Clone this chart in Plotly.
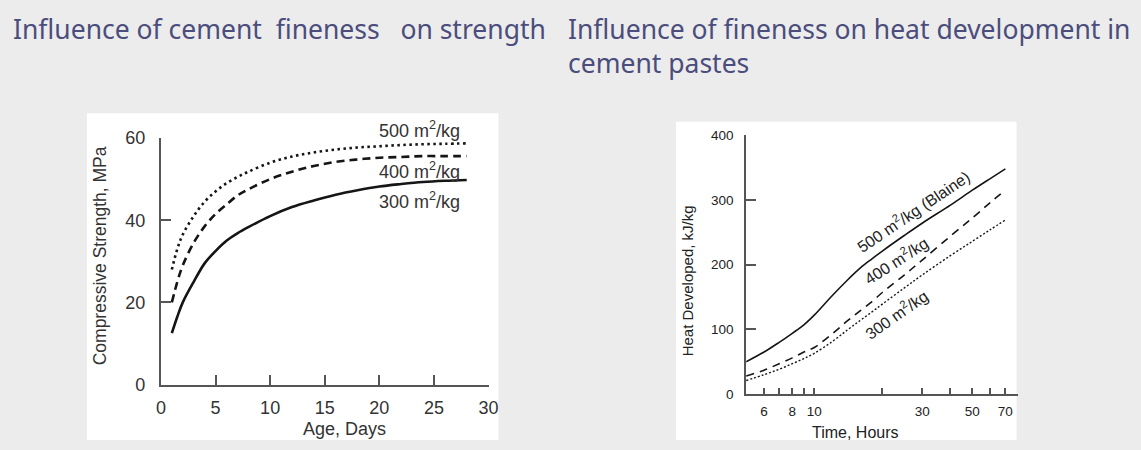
import plotly.graph_objects as go

W, H = 1141, 450

# ---------------- data ----------------
age_days = [1, 1.5, 2, 3, 4, 5, 6, 7, 8, 10, 12, 14, 16, 18, 20, 22, 24, 26, 28]
strength_300 = [12.5, 16.5, 20, 25, 29.5, 32.5, 35, 36.8, 38.3, 41, 43.2, 44.8, 46.2, 47.3, 48.2, 48.8, 49.3, 49.6, 49.8]
strength_400 = [20, 25, 29, 34.5, 38.5, 41.5, 43.8, 46, 47.5, 50, 51.8, 53.2, 54.2, 54.8, 55.2, 55.4, 55.6, 55.6, 55.6]
strength_500 = [28, 33, 36.5, 41, 44.5, 47, 49, 50.5, 51.8, 54, 55.5, 56.5, 57.2, 57.7, 58, 58.3, 58.5, 58.6, 58.7]

time_hours = [5, 6, 7, 8, 9, 10, 12, 14, 16, 18, 20, 25, 30, 40, 50, 60, 70]
heat_500 = [50, 65, 80, 94, 107, 122, 152, 176, 195, 209, 221, 245, 264, 292, 315, 333, 348]
heat_400 = [28, 37, 47, 56, 65, 72, 93, 113, 129, 143, 157, 184, 207, 244, 272, 296, 315]
heat_300 = [21, 30, 38.5, 47, 55, 63, 81, 99, 114, 127, 139, 164, 184, 214, 236, 254, 269]

left_xticks = [0, 5, 10, 15, 20, 25, 30]
left_yticks = [0, 20, 40, 60]
right_yticks = [0, 100, 200, 300, 400]
right_xticks = [6, 8, 10, 30, 50, 70]
right_xminor = [7, 9, 20, 40, 60]

NB = "\u00a0"
title_left = "Influence of cement" + NB * 2 + "fineness" + NB * 3 + "on strength"
title_right = "Influence of fineness on heat development in<br>cement pastes"

def px(x):
    return x / W

def py(y):
    return 1 - y / H

ARIAL = "Liberation Sans, Arial, Helvetica, sans-serif"
TITLE_FONT = "Tahoma, Noto Sans, DejaVu Sans, sans-serif"
TITLE_COLOR = "#4b4d7c"
INK = "#151515"
AXC = "#555555"

fig = go.Figure()

# left chart curves
fig.add_trace(go.Scatter(x=age_days, y=strength_500, mode="lines", line=dict(color=INK, width=2.6, dash="2.5px,3.5px", shape="spline"), xaxis="x", yaxis="y", showlegend=False))
fig.add_trace(go.Scatter(x=age_days, y=strength_400, mode="lines", line=dict(color=INK, width=2.6, dash="8px,5px", shape="spline"), xaxis="x", yaxis="y", showlegend=False))
fig.add_trace(go.Scatter(x=age_days, y=strength_300, mode="lines", line=dict(color=INK, width=2.6, shape="spline"), xaxis="x", yaxis="y", showlegend=False))

# right chart curves
fig.add_trace(go.Scatter(x=time_hours, y=heat_500, mode="lines", line=dict(color=INK, width=1.6, shape="spline"), xaxis="x2", yaxis="y2", showlegend=False))
fig.add_trace(go.Scatter(x=time_hours, y=heat_400, mode="lines", line=dict(color=INK, width=1.6, dash="8px,6px", shape="spline"), xaxis="x2", yaxis="y2", showlegend=False))
fig.add_trace(go.Scatter(x=time_hours, y=heat_300, mode="lines", line=dict(color=INK, width=1.4, dash="2px,2px", shape="spline"), xaxis="x2", yaxis="y2", showlegend=False))

axis_common = dict(showgrid=False, zeroline=False, showline=True, linecolor=AXC, linewidth=2,
                   ticks="inside", tickcolor=AXC, tickwidth=2)

fig.update_layout(
    width=W, height=H, autosize=False,
    margin=dict(l=0, r=0, t=0, b=0),
    paper_bgcolor="#ececec", plot_bgcolor="rgba(0,0,0,0)",
    xaxis=dict(domain=[px(158), px(490)], range=[0, 30], tickvals=left_xticks, ticklen=10,
               tickfont=dict(family=ARIAL, size=18, color="#333"), ticklabelstandoff=6,
               anchor="y", **axis_common),
    yaxis=dict(domain=[py(392), py(134)], range=[0, 60], tickvals=left_yticks, ticklen=10,
               tickfont=dict(family=ARIAL, size=18, color="#333"), ticklabelstandoff=10,
               anchor="x", **axis_common),
    xaxis2=dict(domain=[px(751), px(1027)], type="log", range=[0.69897, 1.90309],
                tickvals=right_xticks, ticktext=[str(v) for v in right_xticks], ticklen=6,
                minor=dict(tickvals=right_xminor, ticks="inside", ticklen=6, tickcolor=AXC, tickwidth=2),
                tickfont=dict(family=ARIAL, size=13.5, color="#222"), ticklabelstandoff=4,
                anchor="y2", **axis_common),
    yaxis2=dict(domain=[py(402), py(131)], range=[0, 400], tickvals=right_yticks, ticklen=10,
                tickfont=dict(family=ARIAL, size=13.5, color="#222"), ticklabelstandoff=8,
                anchor="x2", **axis_common),
)

# white panels behind charts
fig.add_shape(type="rect", xref="paper", yref="paper", x0=px(83), x1=px(500), y0=0, y1=py(108),
              fillcolor="white", line=dict(width=0), layer="below")
fig.add_shape(type="rect", xref="paper", yref="paper", x0=px(680), x1=px(1025), y0=0, y1=py(117),
              fillcolor="white", line=dict(width=0), layer="below")

ann = []

def add_ann(text, x, y, size, color, family=ARIAL, angle=0, xanchor="center", align="center"):
    ann.append(dict(text=text, x=px(x), y=py(y), xref="paper", yref="paper",
                    xanchor=xanchor, yanchor="middle", align=align, textangle=angle,
                    showarrow=False, font=dict(family=family, size=size, color=color)))

# titles
add_ann(title_left, 6, 20, 26.5, TITLE_COLOR, TITLE_FONT, xanchor="left", align="left")
add_ann(title_right, 568, 38, 26.5, TITLE_COLOR, TITLE_FONT, xanchor="left", align="left")
# left axis titles
add_ann("Compressive Strength, MPa", 96, 257, 17.5, "#333", angle=-90)
add_ann("Age, Days", 344, 438, 18, "#333")
# left curve labels
add_ann("500 m<sup>2</sup>/kg", 420, 125, 18, "#333")
add_ann("400 m<sup>2</sup>/kg", 420, 168, 18, "#333")
add_ann("300 m<sup>2</sup>/kg", 420, 199, 18, "#333")
# right axis titles
add_ann("Heat Developed, kJ/kg", 692, 283, 15, "#222", angle=-90)
add_ann("Time, Hours", 862, 442, 16, "#222")
# right curve labels
add_ann("500 m<sup>2</sup>/kg (Blaine)", 920, 210, 16, "#222", angle=-34)
add_ann("400 m<sup>2</sup>/kg", 903, 262, 16, "#222", angle=-33)
add_ann("300 m<sup>2</sup>/kg", 903, 318, 16, "#222", angle=-35)

fig.update_layout(annotations=ann)

fig.write_html("out.html", config={"displayModeBar": False},
               post_script="document.body.style.margin='0px';document.body.style.background='#ececec';")
